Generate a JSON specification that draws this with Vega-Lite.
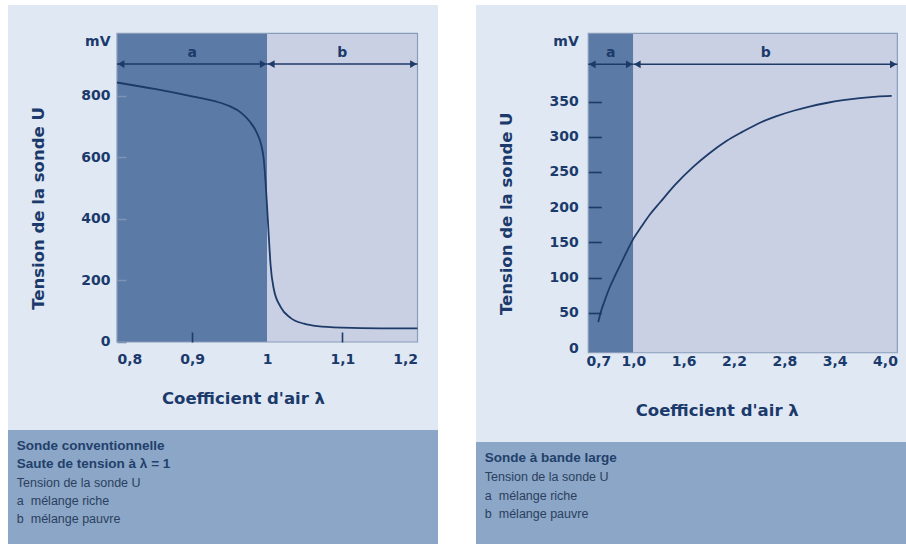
{
  "$schema": "https://vega.github.io/schema/vega-lite/v6.json",
  "background": "white",
  "padding": {"left": 8, "top": 5, "right": 0, "bottom": 0},
  "config": {"view": {"stroke": null}},
  "datasets": {
    "zonesL": [
      {"zone": "a", "x0": 0.8, "x1": 1.0, "y0": -1.6, "y1": 1003},
      {"zone": "b", "x0": 1.0, "x1": 1.2, "y0": -1.6, "y1": 1003}
    ],
    "frameL": [{"x0": 0.8, "x1": 1.2, "y0": -1.6, "y1": 1003}],
    "arrowsL": [
      {"zone": "a", "x0": 0.8, "x1": 1.0, "y": 903},
      {"zone": "b", "x0": 1.0, "x1": 1.2, "y": 903}
    ],
    "headsL": [
      {"x": 0.8, "y": 903, "dir": "left"},
      {"x": 1.0, "y": 903, "dir": "right"},
      {"x": 1.0, "y": 903, "dir": "left"},
      {"x": 1.2, "y": 903, "dir": "right"}
    ],
    "labelsL": [
      {"x": 0.9, "y": 939, "text": "a"},
      {"x": 1.1, "y": 939, "text": "b"}
    ],
    "curveL": [
      {"x": 0.8, "y": 843}, {"x": 0.85, "y": 822}, {"x": 0.9, "y": 798}, {"x": 0.93, "y": 782},
      {"x": 0.95, "y": 766}, {"x": 0.965, "y": 745}, {"x": 0.977, "y": 715}, {"x": 0.986, "y": 680},
      {"x": 0.992, "y": 640}, {"x": 0.9955, "y": 590}, {"x": 0.998, "y": 510}, {"x": 1.0, "y": 430}, {"x": 1.002, "y": 345},
      {"x": 1.0044, "y": 250}, {"x": 1.0088, "y": 170}, {"x": 1.0177, "y": 113}, {"x": 1.031, "y": 77},
      {"x": 1.049, "y": 58}, {"x": 1.0665, "y": 50}, {"x": 1.1, "y": 45}, {"x": 1.15, "y": 43}, {"x": 1.2, "y": 43}
    ],
    "zonesR": [
      {"zone": "a", "x0": 0.614, "x1": 1.0, "y0": -6.7, "y1": 447},
      {"zone": "b", "x0": 1.0, "x1": 4.147, "y0": -6.7, "y1": 447}
    ],
    "frameR": [{"x0": 0.614, "x1": 4.147, "y0": -6.7, "y1": 447}],
    "arrowsR": [
      {"zone": "a", "x0": 0.614, "x1": 1.0, "y": 403},
      {"zone": "b", "x0": 1.0, "x1": 4.147, "y": 403}
    ],
    "headsR": [
      {"x": 0.614, "y": 403, "dir": "left"},
      {"x": 1.0, "y": 403, "dir": "right"},
      {"x": 1.0, "y": 403, "dir": "left"},
      {"x": 4.147, "y": 403, "dir": "right"}
    ],
    "labelsR": [
      {"x": 0.807, "y": 418.6, "text": "a"},
      {"x": 2.579, "y": 418.6, "text": "b"}
    ],
    "curveR": [
      {"x": 0.7, "y": 37}, {"x": 0.723, "y": 52}, {"x": 0.75, "y": 65}, {"x": 0.8, "y": 87},
      {"x": 0.85, "y": 105}, {"x": 0.9, "y": 122}, {"x": 0.95, "y": 139}, {"x": 1.0, "y": 155},
      {"x": 1.1, "y": 173}, {"x": 1.2, "y": 190}, {"x": 1.32, "y": 207}, {"x": 1.5, "y": 232},
      {"x": 1.72, "y": 258}, {"x": 1.9, "y": 276}, {"x": 2.11, "y": 294}, {"x": 2.3, "y": 307},
      {"x": 2.51, "y": 320}, {"x": 2.7, "y": 329}, {"x": 2.91, "y": 337}, {"x": 3.1, "y": 343},
      {"x": 3.3, "y": 348}, {"x": 3.5, "y": 352}, {"x": 3.7, "y": 355}, {"x": 3.9, "y": 357}, {"x": 4.08, "y": 358}
    ],
    "capL": [
      {"row": 1, "col": 0, "kind": "head", "text": "Sonde conventionnelle"},
      {"row": 2, "col": 0, "kind": "head", "text": "Saute de tension à λ = 1"},
      {"row": 3, "col": 0, "kind": "body", "text": "Tension de la sonde U"},
      {"row": 4, "col": 0, "kind": "body", "text": "a \u00a0mélange riche"},
      {"row": 5, "col": 0, "kind": "body", "text": "b \u00a0mélange pauvre"}
    ],
    "capR": [
      {"row": 1, "col": 0, "kind": "head", "text": "Sonde à bande large"},
      {"row": 2, "col": 0, "kind": "body", "text": "Tension de la sonde U"},
      {"row": 3, "col": 0, "kind": "body", "text": "a \u00a0mélange riche"},
      {"row": 4, "col": 0, "kind": "body", "text": "b \u00a0mélange pauvre"}
    ]
  },
  "hconcat": [
    {
      "vconcat": [
        {
          "width": 430,
          "height": 425,
          "view": {"fill": "#dfe8f3", "stroke": null},
          "layer": [
            {
              "data": {"name": "zonesL"},
              "mark": {"type": "rect"},
              "encoding": {
                "x": {"field": "x0", "type": "quantitative",
                  "scale": {"domain": [0.65491, 1.22729], "nice": false, "zero": false},
                  "axis": {"title": "Coefficient d'air λ", "values": [0.8, 0.9, 1.0, 1.1, 1.2], "offset": -88, "domain": false, "grid": false, "zindex": 2,
                    "ticks": true, "tickSize": -10, "tickWidth": 1.6,
                    "tickColor": {"condition": {"test": "datum.value < 0.85 || datum.value > 1.15 || (datum.value > 0.95 && datum.value < 1.05)", "value": "transparent"}, "value": "#1d3a68"},
                    "labelExpr": "replace(format(datum.value, '.1~f'), '.', ',')",
                    "labelAlign": {"condition": [{"test": "datum.value < 0.85", "value": "left"}, {"test": "datum.value > 1.15", "value": "right"}], "value": "center"},
                    "labelPadding": 20, "labelFont": "DejaVu Sans", "labelFontWeight": "bold", "labelFontSize": 14, "labelColor": "#1b3a6b", "labelOverlap": false,
                    "titleFont": "DejaVu Sans", "titleFontWeight": "bold", "titleFontSize": 16.5, "titleColor": "#1b3a6b",
                    "titleX": 235, "titleY": 56, "titleAlign": "center", "titleBaseline": "middle"}},
                "x2": {"field": "x1"},
                "y": {"field": "y0", "type": "quantitative",
                  "scale": {"domain": [-288, 1095.2], "nice": false, "zero": false},
                  "axis": {"title": "Tension de la sonde U", "values": [0, 200, 400, 600, 800, 975], "offset": -109, "domain": false, "grid": false, "zindex": 2,
                    "ticks": true, "tickSize": -9, "tickWidth": 1.6,
                    "tickColor": {"condition": {"test": "datum.value > 900", "value": "transparent"}, "value": "#7f93b4"},
                    "labelExpr": "datum.value > 900 ? 'mV' : datum.label",
                    "labelPadding": 16, "labelFont": "DejaVu Sans", "labelFontWeight": "bold", "labelFontSize": 14, "labelColor": "#1b3a6b", "labelOverlap": false,
                    "titleFont": "DejaVu Sans", "titleFontWeight": "bold", "titleFontSize": 16.5, "titleColor": "#1b3a6b",
                    "titleX": -79, "titleY": 203, "titleAlign": "center", "titleBaseline": "middle", "titleAngle": 270}},
                "y2": {"field": "y1"},
                "color": {"field": "zone", "type": "nominal", "scale": {"domain": ["a", "b"], "range": ["#5b7aa5", "#c9d0e3"]}, "legend": null}
              }
            },
            {
              "data": {"name": "frameL"},
              "mark": {"type": "rect", "fill": null, "stroke": "#8a9cba", "strokeWidth": 1.2},
              "encoding": {"x": {"field": "x0", "type": "quantitative"}, "x2": {"field": "x1"}, "y": {"field": "y0", "type": "quantitative"}, "y2": {"field": "y1"}}
            },
            {
              "data": {"name": "curveL"},
              "mark": {"type": "line", "interpolate": "monotone", "color": "#1d3a68", "strokeWidth": 1.8},
              "encoding": {"x": {"field": "x", "type": "quantitative"}, "y": {"field": "y", "type": "quantitative"}}
            },
            {
              "data": {"name": "arrowsL"},
              "mark": {"type": "rule", "color": "#1d3a68", "strokeWidth": 1.5},
              "encoding": {"x": {"field": "x0", "type": "quantitative"}, "x2": {"field": "x1"}, "y": {"field": "y", "type": "quantitative"}}
            },
            {
              "data": {"name": "headsL"},
              "transform": [{"filter": "datum.dir == 'left'"}],
              "mark": {"type": "point", "shape": "triangle-left", "filled": true, "color": "#1d3a68", "size": 60, "opacity": 1, "xOffset": 4},
              "encoding": {"x": {"field": "x", "type": "quantitative"}, "y": {"field": "y", "type": "quantitative"}}
            },
            {
              "data": {"name": "headsL"},
              "transform": [{"filter": "datum.dir == 'right'"}],
              "mark": {"type": "point", "shape": "triangle-right", "filled": true, "color": "#1d3a68", "size": 60, "opacity": 1, "xOffset": -4},
              "encoding": {"x": {"field": "x", "type": "quantitative"}, "y": {"field": "y", "type": "quantitative"}}
            },
            {
              "data": {"name": "labelsL"},
              "mark": {"type": "text", "font": "DejaVu Sans", "fontWeight": "bold", "fontSize": 14, "color": "#1b3a6b", "baseline": "middle"},
              "encoding": {"x": {"field": "x", "type": "quantitative"}, "y": {"field": "y", "type": "quantitative"}, "text": {"field": "text"}}
            }
          ]
        },
        {
          "width": 430,
          "height": 114,
          "view": {"fill": "#8ba6c6", "stroke": null},
          "data": {"name": "capL"},
          "encoding": {
            "x": {"field": "col", "type": "quantitative", "scale": {"domain": [-0.021, 1], "nice": false, "zero": false}, "axis": null},
            "y": {"field": "row", "type": "quantitative", "scale": {"domain": [0.123, 6.37], "nice": false, "zero": false, "reverse": true}, "axis": null},
            "text": {"field": "text"}
          },
          "layer": [
            {"transform": [{"filter": "datum.kind == 'head'"}], "mark": {"type": "text", "align": "left", "baseline": "middle", "font": "Liberation Sans", "fontWeight": "bold", "fontSize": 13.5, "color": "#22406b"}},
            {"transform": [{"filter": "datum.kind == 'body'"}], "mark": {"type": "text", "align": "left", "baseline": "middle", "font": "Liberation Sans", "fontSize": 12.5, "color": "#2b3f5f"}}
          ]
        }
      ],
      "spacing": 0
    },
    {
      "vconcat": [
        {
          "width": 430,
          "height": 437,
          "view": {"fill": "#dfe8f3", "stroke": null},
          "layer": [
            {
              "data": {"name": "zonesR"},
              "mark": {"type": "rect"},
              "encoding": {
                "x": {"field": "x0", "type": "quantitative",
                  "scale": {"domain": [-0.348, 1.0, 4.25], "range": [0, 157.3, 430], "nice": false, "zero": false},
                  "axis": {"title": "Coefficient d'air λ", "values": [0.7, 1.0, 1.6, 2.2, 2.8, 3.4, 4.0], "offset": -89.3, "domain": false, "grid": false, "ticks": false, "tickSize": 0, "zindex": 2,
                    "labelExpr": "replace(format(datum.value, '.1f'), '.', ',')",
                    "labelPadding": 2, "labelFont": "DejaVu Sans", "labelFontWeight": "bold", "labelFontSize": 14, "labelColor": "#1b3a6b", "labelOverlap": false,
                    "titleFont": "DejaVu Sans", "titleFontWeight": "bold", "titleFontSize": 16.5, "titleColor": "#1b3a6b",
                    "titleX": 240.7, "titleY": 58, "titleAlign": "center", "titleBaseline": "middle"}},
                "x2": {"field": "x1"},
                "y": {"field": "y0", "type": "quantitative",
                  "scale": {"domain": [-133.5, 487.2], "nice": false, "zero": false},
                  "axis": {"title": "Tension de la sonde U", "values": [0, 50, 100, 150, 200, 250, 300, 350, 435], "offset": -112.3, "domain": false, "grid": false, "zindex": 2,
                    "ticks": true, "tickSize": -13, "tickWidth": 1.6,
                    "tickColor": {"condition": {"test": "datum.value > 400 || datum.value == 0", "value": "transparent"}, "value": "#1d3a68"},
                    "labelExpr": "datum.value > 400 ? 'mV' : datum.label",
                    "labelPadding": 23, "labelFont": "DejaVu Sans", "labelFontWeight": "bold", "labelFontSize": 14, "labelColor": "#1b3a6b", "labelOverlap": false,
                    "titleFont": "DejaVu Sans", "titleFontWeight": "bold", "titleFontSize": 16.5, "titleColor": "#1b3a6b",
                    "titleX": -81.6, "titleY": 208.3, "titleAlign": "center", "titleBaseline": "middle", "titleAngle": 270}},
                "y2": {"field": "y1"},
                "color": {"field": "zone", "type": "nominal", "scale": {"domain": ["a", "b"], "range": ["#5b7aa5", "#c9d0e3"]}, "legend": null}
              }
            },
            {
              "data": {"name": "frameR"},
              "mark": {"type": "rect", "fill": null, "stroke": "#8a9cba", "strokeWidth": 1.2},
              "encoding": {"x": {"field": "x0", "type": "quantitative"}, "x2": {"field": "x1"}, "y": {"field": "y0", "type": "quantitative"}, "y2": {"field": "y1"}}
            },
            {
              "data": {"name": "curveR"},
              "mark": {"type": "line", "interpolate": "monotone", "color": "#1d3a68", "strokeWidth": 1.8},
              "encoding": {"x": {"field": "x", "type": "quantitative"}, "y": {"field": "y", "type": "quantitative"}}
            },
            {
              "data": {"name": "arrowsR"},
              "mark": {"type": "rule", "color": "#1d3a68", "strokeWidth": 1.5},
              "encoding": {"x": {"field": "x0", "type": "quantitative"}, "x2": {"field": "x1"}, "y": {"field": "y", "type": "quantitative"}}
            },
            {
              "data": {"name": "headsR"},
              "transform": [{"filter": "datum.dir == 'left'"}],
              "mark": {"type": "point", "shape": "triangle-left", "filled": true, "color": "#1d3a68", "size": 60, "opacity": 1, "xOffset": 4},
              "encoding": {"x": {"field": "x", "type": "quantitative"}, "y": {"field": "y", "type": "quantitative"}}
            },
            {
              "data": {"name": "headsR"},
              "transform": [{"filter": "datum.dir == 'right'"}],
              "mark": {"type": "point", "shape": "triangle-right", "filled": true, "color": "#1d3a68", "size": 60, "opacity": 1, "xOffset": -4},
              "encoding": {"x": {"field": "x", "type": "quantitative"}, "y": {"field": "y", "type": "quantitative"}}
            },
            {
              "data": {"name": "labelsR"},
              "mark": {"type": "text", "font": "DejaVu Sans", "fontWeight": "bold", "fontSize": 14, "color": "#1b3a6b", "baseline": "middle"},
              "encoding": {"x": {"field": "x", "type": "quantitative"}, "y": {"field": "y", "type": "quantitative"}, "text": {"field": "text"}}
            }
          ]
        },
        {
          "width": 430,
          "height": 102,
          "view": {"fill": "#8ba6c6", "stroke": null},
          "data": {"name": "capR"},
          "encoding": {
            "x": {"field": "col", "type": "quantitative", "scale": {"domain": [-0.021, 1], "nice": false, "zero": false}, "axis": null},
            "y": {"field": "row", "type": "quantitative", "scale": {"domain": [0.127, 5.59], "nice": false, "zero": false, "reverse": true}, "axis": null},
            "text": {"field": "text"}
          },
          "layer": [
            {"transform": [{"filter": "datum.kind == 'head'"}], "mark": {"type": "text", "align": "left", "baseline": "middle", "font": "Liberation Sans", "fontWeight": "bold", "fontSize": 13.5, "color": "#22406b"}},
            {"transform": [{"filter": "datum.kind == 'body'"}], "mark": {"type": "text", "align": "left", "baseline": "middle", "font": "Liberation Sans", "fontSize": 12.5, "color": "#2b3f5f"}}
          ]
        }
      ],
      "spacing": 0
    }
  ],
  "spacing": 38
}
